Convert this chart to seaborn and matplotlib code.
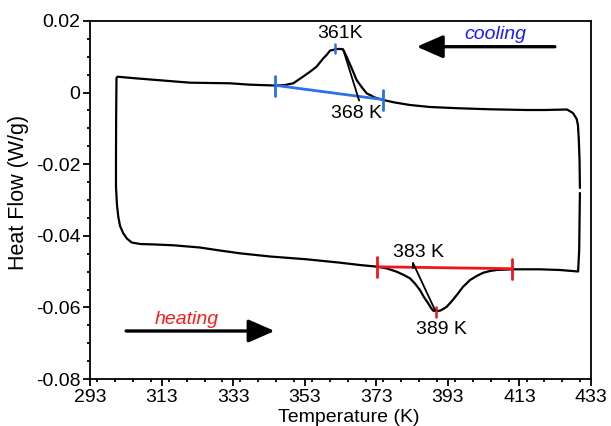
import numpy as np
import pandas as pd
import matplotlib
matplotlib.use("Agg")
import matplotlib.pyplot as plt
from matplotlib.ticker import MultipleLocator, FuncFormatter
import seaborn as sns

# ---------------- data ----------------
cool_T = [429.9, 429.8, 429.6, 429.35, 429.0, 427.95, 426.3, 420.1, 415.0, 404.8,
          396.4, 388.0, 382.4, 378.2, 374.95, 372.6, 370.3, 368.9, 367.5, 366.1,
          364.7, 363.8, 363.3, 361.7, 360.9, 360.1, 359.1, 358.2, 356.3, 354.5,
          352.1, 349.8, 347.5, 344.7, 337.7, 332.1, 320.9, 312.6, 305.6, 300.7,
          300.4, 300.3, 300.26]
cool_HF = [-0.02665, -0.01883, -0.01324, -0.00905, -0.00737, -0.0057, -0.00472, -0.00486,
           -0.00486, -0.00466, -0.00439, -0.00402, -0.00346, -0.00277, -0.00207, -0.00137,
           -0.0002, 0.00156, 0.00352, 0.00687, 0.01003, 0.0119, 0.01218, 0.01218, 0.0119,
           0.01176, 0.0105, 0.00958, 0.00723, 0.00584, 0.00416, 0.0026, 0.00212, 0.00198,
           0.00221, 0.0026, 0.00277, 0.00344, 0.004, 0.00444, 0.00408, -0.00765, -0.01883]

heat_T = [300.26, 300.26, 300.54, 300.9, 301.4, 302.3, 303.3, 304.65, 307.0, 311.2,
          316.3, 323.7, 329.3, 334.9, 343.3, 353.5, 362.85, 368.4, 373.3, 376.0,
          378.7, 380.7, 382.4, 383.8, 385.2, 386.3, 387.5, 388.3, 388.9, 389.95,
          390.8, 391.7, 392.7, 393.9, 395.5, 397.2, 399.2, 401.05, 402.9, 404.8,
          406.6, 411.0, 418.7, 424.3, 429.4, 429.7, 429.8, 429.9]
heat_HF = [-0.01883, -0.02628, -0.0314, -0.03467, -0.03726, -0.0393, -0.04075, -0.04187,
           -0.04229, -0.04243, -0.04265, -0.04327, -0.04411, -0.04489, -0.04578, -0.04656,
           -0.04751, -0.04816, -0.04863, -0.04913, -0.05003, -0.05095, -0.05187, -0.05332,
           -0.05514, -0.0571, -0.05885, -0.06017, -0.06092, -0.061, -0.06092, -0.06045,
           -0.0598, -0.05849, -0.05654, -0.0543, -0.05235, -0.05123, -0.05031, -0.04983,
           -0.04955, -0.04936, -0.04936, -0.04955, -0.04997, -0.04397, -0.03559, -0.02804]

# integration baselines and characteristic temperatures
cool_base_T = [344.7, 374.8]
cool_base_HF = [0.00204, -0.00193]
cool_peak_T = 361.45
cool_peak_HF = 0.01232
cool_tangent_T = [363.7, 368.2]
cool_tangent_HF = [0.01218, -0.0022]

heat_base_T = [373.3, 411.0]
heat_base_HF = [-0.04866, -0.04919]
heat_peak_T = 389.6
heat_peak_HF = -0.06128
heat_tangent_T = [383.3, 389.4]
heat_tangent_HF = [-0.04768, -0.06073]

x_ticks = [293, 313, 333, 353, 373, 393, 413, 433]
y_ticks = [0.02, 0, -0.02, -0.04, -0.06, -0.08]

# ---------------- style ----------------
sns.set_theme(style="ticks")
plt.rcParams["font.family"] = ["Liberation Sans", "DejaVu Sans"]
plt.rcParams["axes.unicode_minus"] = False
plt.rcParams["text.color"] = "black"
plt.rcParams["axes.labelcolor"] = "black"
plt.rcParams["xtick.color"] = "black"
plt.rcParams["ytick.color"] = "black"

fig = plt.figure(figsize=(6.11, 4.26), dpi=100)
ax = fig.add_axes([90 / 611, 47 / 426, 501 / 611, 358 / 426])

cool_df = pd.DataFrame({"T": cool_T, "HF": cool_HF})
heat_df = pd.DataFrame({"T": heat_T, "HF": heat_HF})
sns.lineplot(data=cool_df, x="T", y="HF", sort=False, estimator=None,
             color="black", lw=1.6, ax=ax)
sns.lineplot(data=heat_df, x="T", y="HF", sort=False, estimator=None,
             color="black", lw=1.6, ax=ax)

blue = "#2a70e6"
red = "#f0141e"

# cooling baseline with end ticks
ax.plot(cool_base_T, cool_base_HF, color=blue, lw=2.0, solid_capstyle="butt")
for t, h in zip(cool_base_T, cool_base_HF):
    ax.plot([t, t], [h + 0.0026, h - 0.0029], color=blue, lw=2.0)
ax.plot([cool_peak_T, cool_peak_T], [cool_peak_HF + 0.0013, cool_peak_HF - 0.0013],
        color=blue, lw=1.8)
ax.plot(cool_tangent_T, cool_tangent_HF, color="black", lw=1.3)

# heating baseline with end ticks
ax.plot(heat_base_T, heat_base_HF, color=red, lw=2.0, solid_capstyle="butt")
for t, h in zip(heat_base_T, heat_base_HF):
    ax.plot([t, t], [h + 0.0028, h - 0.0029], color=red, lw=2.0)
ax.plot([heat_peak_T, heat_peak_T], [heat_peak_HF + 0.0014, heat_peak_HF - 0.0014],
        color=red, lw=1.8)
ax.plot(heat_tangent_T, heat_tangent_HF, color="black", lw=1.3)
ax.plot([heat_tangent_T[0], heat_tangent_T[0]],
        [heat_tangent_HF[0] + 0.0002, heat_tangent_HF[0] - 0.0014], color="black", lw=1.3)

# labels
fs = 14
ax.text(362.85, 0.01656, "361K", ha="center", va="center", fontsize=fs)
ax.text(367.5, -0.00578, "368 K", ha="center", va="center", fontsize=fs)
ax.text(384.7, -0.04461, "383 K", ha="center", va="center", fontsize=fs)
ax.text(391.3, -0.06612, "389 K", ha="center", va="center", fontsize=fs)
ax.text(406.2, 0.01628, "cooling", ha="center", va="center", fontsize=fs,
        style="italic", color="#1a1aff")
ax.text(320.0, -0.06335, "heating", ha="center", va="center", fontsize=fs,
        style="italic", color="#ff1a1a")

arrow_kw = dict(arrowstyle="-|>,head_length=0.8,head_width=0.35", lw=2.4,
                color="black", mutation_scale=20, shrinkA=0, shrinkB=0)
ax.annotate("", xy=(384.3, 0.01282), xytext=(422.9, 0.01282), arrowprops=arrow_kw)
ax.annotate("", xy=(344.6, -0.06659), xytext=(303.1, -0.06659), arrowprops=arrow_kw)

# axes
ax.set_xlim(293, 433)
ax.set_ylim(-0.08, 0.02)
ax.set_xticks(x_ticks)
ax.set_yticks(y_ticks)
ax.xaxis.set_minor_locator(MultipleLocator(5))
ax.yaxis.set_minor_locator(MultipleLocator(0.005))
ax.yaxis.set_major_formatter(FuncFormatter(lambda v, p: "0" if abs(v) < 1e-9 else f"{v:.2f}"))
ax.tick_params(axis="both", which="major", direction="out", length=5, width=1.3,
               labelsize=fs, colors="black", pad=2)
ax.tick_params(axis="both", which="minor", direction="out", length=2.5, width=1.3)
ax.tick_params(top=False, right=False, which="both")
for s in ax.spines.values():
    s.set_linewidth(1.3)
    s.set_color("black")
    s.set_visible(True)

ax.set_xlabel("Temperature (K)", fontsize=14, color="black")
ax.set_ylabel("Heat Flow (W/g)", fontsize=15.5, color="black")
ax.xaxis.set_label_coords(0.517, -0.085)
ax.yaxis.set_label_coords(-0.122, 0.522)
ax.grid(False)
ax.set_facecolor("white")

fig.savefig("out.png", dpi=100, facecolor="white")
